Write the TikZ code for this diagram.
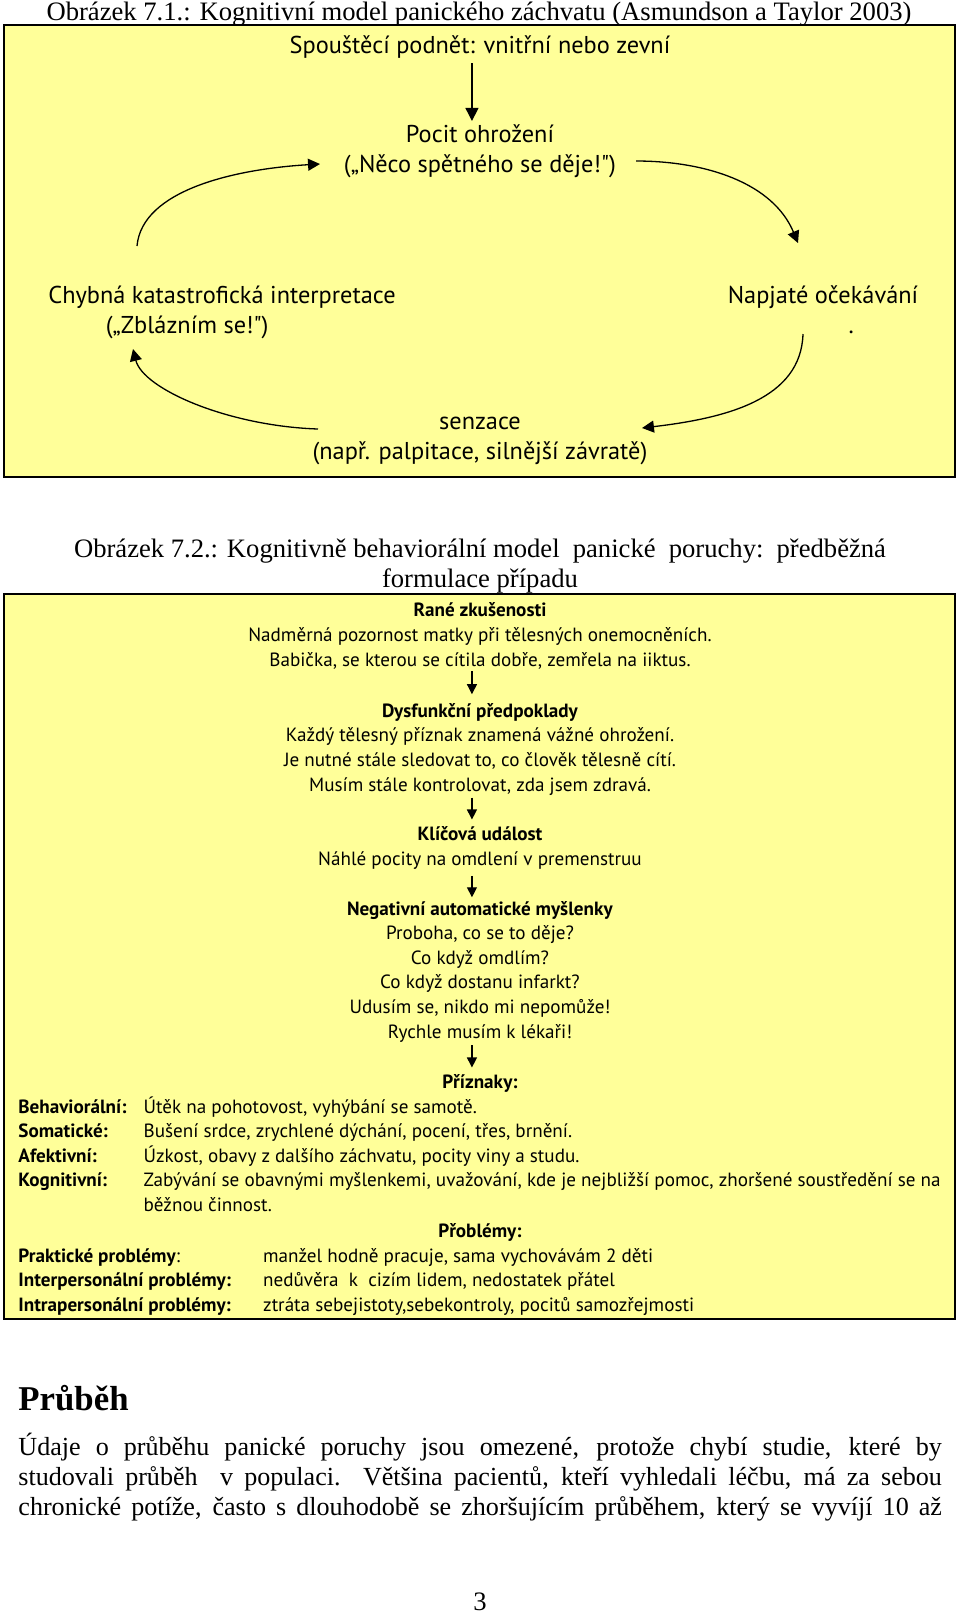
\documentclass[tikz,border=0pt]{standalone}
\usepackage{fontspec}
\setmainfont{Liberation Serif}
\newfontfamily\diagfont{PT Sans}
\usetikzlibrary{arrows.meta}

\definecolor{paleyellow}{RGB}{255,255,153}

\begin{document}
\begin{tikzpicture}[x=0.46pt,y=-0.46pt,
	panel/.style={draw=black,fill=paleyellow,line width=0.5pt},
	bigtext/.style={font=\diagfont\fontsize{11.2}{13.4}\selectfont,align=center,anchor=base,inner sep=0pt},
	smalltext/.style={font=\diagfont\fontsize{8.8}{11.3}\selectfont,align=center,anchor=base,inner sep=0pt},
	titletext/.style={font=\fontsize{12.25}{13.8}\selectfont,align=center,anchor=base,inner sep=0pt},
	cyclearrow/.style={line width=0.6pt,-{Triangle[length=5.5pt,width=5.5pt]}},
	downarrow/.style={line width=0.6pt,-{Triangle[length=6pt,width=6pt]}},
	flowarrow/.style={line width=0.5pt,-{Triangle[length=4.6pt,width=4.6pt]}}]
	\fill[white] (0,0) rectangle (960,1615);
	\useasboundingbox (0,0) rectangle (960,1615);

	\node[titletext] (title1) at (479,20) {Obrázek 7.1.: Kognitivní model panického záchvatu (Asmundson a Taylor 2003)};
	\draw[panel] (4,25) rectangle (955,477);
	\node[bigtext] (trigger) at (480,53) {Spouštěcí podnět: vnitřní nebo zevní};
	\node[bigtext] (threat) at (480,172) {Pocit ohrožení\\(„Něco spětného se děje!")};
	\node[bigtext] (interp) at (222,333) {Chybná katastrofická interpretace\\(„Zblázním se!")\hspace*{32pt}};
	\node[bigtext] (expect) at (823,333) {Napjaté očekávání\\\hspace*{26pt}.};
	\node[bigtext] (sens) at (480,459) {senzace\\(např. palpitace, silnější závratě)};
	\coordinate (ul0) at (137,246);
	\coordinate (ul1) at (320,164);
	\coordinate (ur0) at (636,161);
	\coordinate (ur1) at (798,243);
	\coordinate (lr0) at (803,334);
	\coordinate (lr1) at (642,428);
	\coordinate (ll0) at (318,429);
	\coordinate (ll1) at (133,349);
	\draw[downarrow,shorten <=2.2pt,shorten >=1.7pt] ([xshift=-3.7pt]trigger.south) -- ([xshift=-3.7pt]threat.north);
	\draw[cyclearrow] (ul0) .. controls +(5,-56) and +(-85,5) .. (ul1);
	\draw[cyclearrow] (ur0) .. controls +(70,0) and +(-25,-60) .. (ur1);
	\draw[cyclearrow] (lr0) .. controls +(-2,65) and +(85,-10) .. (lr1);
	\draw[cyclearrow] (ll0) .. controls +(-90,-3) and +(10,40) .. (ll1);

	\node[titletext] (title2) at (480,587) {\makebox[373.5pt][s]{Obrázek 7.2.: Kognitivně behaviorální model\ \ panické\ \ poruchy:\ \ předběžná}\\formulace případu};
	\draw[panel] (4,594) rectangle (955,1319);
	\node[smalltext] (early) at (480,666) {\textbf{Rané zkušenosti}\\Nadměrná pozornost matky při tělesných onemocněních.\\Babička, se kterou se cítila dobře, zemřela na iiktus.};
	\node[smalltext] (assume) at (480,791) {\textbf{Dysfunkční předpoklady}\\Každý tělesný příznak znamená vážné ohrožení.\\Je nutné stále sledovat to, co člověk tělesně cítí.\\Musím stále kontrolovat, zda jsem zdravá.};
	\node[smalltext] (event) at (480,865) {\textbf{Klíčová událost}\\Náhlé pocity na omdlení v premenstruu};
	\node[smalltext] (thoughts) at (480,1038) {\textbf{Negativní automatické myšlenky}\\Proboha, co se to děje?\\Co když omdlím?\\Co když dostanu infarkt?\\Udusím se, nikdo mi nepomůže!\\Rychle musím k lékaři!};
	\node[smalltext] (sympt) at (480,1088) {\textbf{Příznaky:}};
	\node[smalltext,anchor=base west] (symptlist) at (18,1113) {\begin{tabular}[t]{@{}p{57.6pt}@{}l@{}}
		\textbf{Behaviorální:} & Útěk na pohotovost, vyhýbání se samotě.\\
		\textbf{Somatické:} & Bušení srdce, zrychlené dýchání, pocení, třes, brnění.\\
		\textbf{Afektivní:} & Úzkost, obavy z dalšího záchvatu, pocity viny a studu.\\
		\textbf{Kognitivní:} & Zabývání se obavnými myšlenkemi, uvažování, kde je nejbližší pomoc, zhoršené soustředění se na\\
		 & běžnou činnost.
	\end{tabular}};
	\node[smalltext] (probl) at (480,1237) {\textbf{Přoblémy:}};
	\node[smalltext,anchor=base west] (probllist) at (18,1262) {\begin{tabular}[t]{@{}p{112.6pt}@{}l@{}}
		\textbf{Praktické problémy}: & manžel hodně pracuje, sama vychovávám 2 děti\\
		\textbf{Interpersonální problémy:} & nedůvěra\ \ k\ \ cizím lidem, nedostatek přátel\\
		\textbf{Intrapersonální problémy:} & ztráta sebejistoty,sebekontroly, pocitů samozřejmosti
	\end{tabular}};
	\draw[flowarrow,shorten <=1pt,shorten >=4pt] ([xshift=-3.7pt]early.south) -- ([xshift=-3.7pt]assume.north);
	\draw[flowarrow,shorten <=1pt,shorten >=3pt] ([xshift=-3.7pt]assume.south) -- ([xshift=-3.7pt]event.north);
	\draw[flowarrow,shorten <=3pt,shorten >=1.6pt] ([xshift=-3.7pt]event.south) -- ([xshift=-3.7pt]thoughts.north);
	\draw[flowarrow,shorten <=1.4pt,shorten >=2.8pt] ([xshift=-3.7pt]thoughts.south) -- ([xshift=-3.7pt]sympt.north);

	\node[anchor=base west,inner sep=0pt,font=\bfseries\fontsize{16}{19}\selectfont] (heading) at (18,1410) {Průběh};
	\node[anchor=base west,inner sep=0pt,font=\fontsize{12}{13.8}\selectfont,align=left] (para) at (18,1515) {\makebox[424.8pt][s]{Údaje o průběhu panické poruchy jsou omezené, protože chybí studie, které by}\\\makebox[424.8pt][s]{studovali průběh\ \ v populaci.\ \ Většina pacientů, kteří vyhledali léčbu, má za sebou}\\\makebox[424.8pt][s]{chronické potíže, často s dlouhodobě se zhoršujícím průběhem, který se vyvíjí 10 až}};
	\node[titletext] (pagenum) at (480,1610) {3};
\end{tikzpicture}
\end{document}
